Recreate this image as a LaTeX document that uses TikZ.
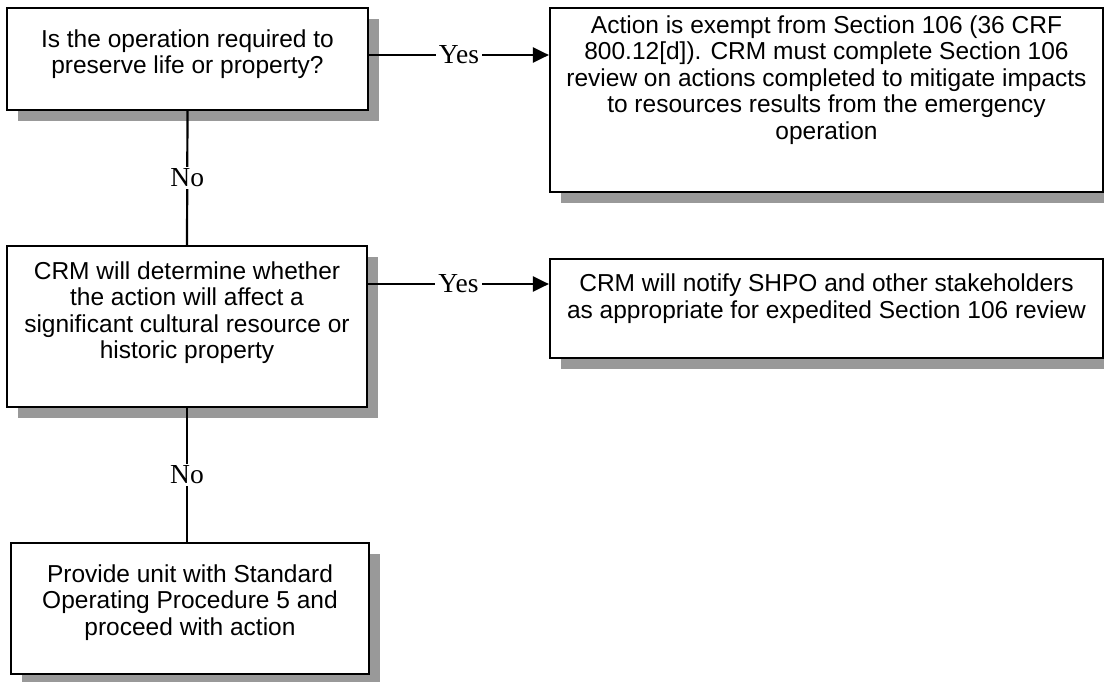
\documentclass[tikz,border=0pt]{standalone}
\usepackage{fontspec}
\setmainfont{Liberation Sans}
\newfontfamily\labelfont{Liberation Serif}
\usetikzlibrary{arrows.meta,shadows}
\definecolor{shadowgray}{HTML}{999999}
\newcommand{\flowtxt}[4]{\parbox[c][#2pt][c]{#1pt}{\centering #4\par\vspace{#3pt}}}
\begin{document}
\begin{tikzpicture}[x=1pt,y=-1pt,
  flowbox/.style={draw=black, line width=2.2pt, fill=white, inner sep=0pt,
    font=\fontsize{24.5}{26.5}\selectfont,
    drop shadow={shadow xshift=11pt, shadow yshift=-11pt, fill=shadowgray, opacity=1}},
  conn/.style={line width=2.2pt, draw=black},
  arrowconn/.style={conn, -{Triangle[length=16pt,width=15pt]}},
  lbl/.style={fill=white, inner xsep=3pt, inner ysep=2pt, font=\labelfont\fontsize{27.5}{30}\selectfont}]
\useasboundingbox (0,0) rectangle (1104,681);
\fill[white] (0,0) rectangle (1104,681);

\node[flowbox] (b1) at (187.5,59) {\flowtxt{361}{102}{10}{Is the operation required to\\preserve life or property?}};
\node[flowbox] (b2) at (826.5,100) {\flowtxt{553}{184}{40}{Action is exempt from Section 106 (36 CRF\\800.12[d]). CRM must complete Section 106\\review on actions completed to mitigate impacts\\to resources results from the emergency\\operation}};
\node[flowbox] (b3) at (187,326.5) {\flowtxt{360}{161}{28}{CRM will determine whether\\the action will affect a\\significant cultural resource or\\historic property}};
\node[flowbox] (b4) at (826.5,308.5) {\flowtxt{553}{99}{20}{CRM will notify SHPO and other stakeholders\\as appropriate for expedited Section 106 review}};
\node[flowbox] (b5) at (190,608.5) {\flowtxt{358}{131}{12}{Provide unit with Standard\\Operating Procedure 5 and\\proceed with action}};

\coordinate (y1) at ([yshift=4pt]b1.east);
\draw[arrowconn] (y1) -- (y1 -| b2.west) node[lbl, midway] (yes1) {Yes};
\coordinate (y2) at ([yshift=24.5pt]b4.west);
\draw[arrowconn] (y2 -| b3.east) -- (y2) node[lbl, midway] (yes2) {Yes};

\draw[conn] (b1.south) -- (b3.north) node[lbl, midway, inner xsep=2pt] (no1) {No};
\draw[conn] (b3.south) -- (b3.south |- b5.north) node[lbl, midway, inner xsep=2pt] (no2) {No};
\end{tikzpicture}
\end{document}
